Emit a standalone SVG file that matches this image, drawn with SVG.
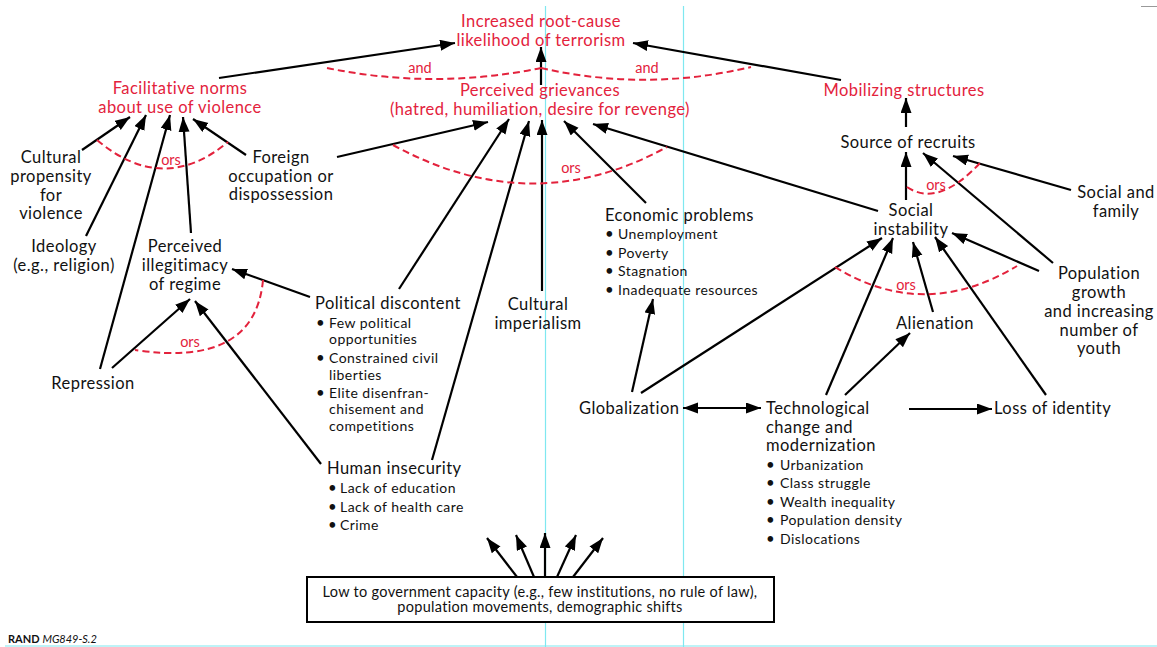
<svg xmlns="http://www.w3.org/2000/svg" width="1157" height="647" viewBox="0 0 1157 647">
  <defs>
    <marker id="ah" markerUnits="userSpaceOnUse" markerWidth="16" markerHeight="12" refX="15" refY="5.5" orient="auto-start-reverse">
      <path d="M0,0 L15,5.5 L0,11 z" fill="#000"/>
    </marker>
    <style>
      text { font-family: Lato, "Open Sans", "Liberation Sans", sans-serif; fill: #111; }
      .m { font-size: 16.5px; letter-spacing: 0.45px; }
      .b { font-size: 14px; letter-spacing: 0.45px; }
      .bu { font-size: 15px; letter-spacing: 0; }
      .bx { font-size: 14.5px; letter-spacing: 0.3px; }
      .r { fill: #e3223c; }
      .c { text-anchor: middle; }
      .lab { font-size: 14.5px; fill: #e3223c; text-anchor: middle; }
      .ln { stroke: #000; stroke-width: 2.2; fill: none; marker-end: url(#ah); }
      .arc { stroke: #e3223c; stroke-width: 2; fill: none; stroke-dasharray: 7 4; }
      .guide { stroke: #7fe8f0; stroke-width: 1.2; }
    </style>
  </defs>
  <rect width="1157" height="647" fill="#fff"/>

  <!-- layout guides -->
  <g id="guides">
    <line class="guide" x1="545.5" y1="6" x2="545.5" y2="647"/>
    <line class="guide" x1="683.5" y1="6" x2="683.5" y2="647"/>
    <line class="guide" x1="5" y1="646" x2="1157" y2="646"/>
    <line x1="1141" y1="6.5" x2="1157" y2="6.5" stroke="#999" stroke-width="1"/>
  </g>

  <!-- connectors -->
  <g id="connectors">
    <line class="ln" x1="219" y1="78" x2="455" y2="43"/>
    <line class="ln" x1="841" y1="80" x2="633" y2="43"/>
    <line class="ln" x1="541" y1="85" x2="541" y2="47"/>
    <path class="arc" d="M327,68 Q434,90 541,68"/>
    <path class="arc" d="M541,68 Q646,92 751,67"/>

    <line class="ln" x1="337" y1="157" x2="488" y2="122"/>
    <line class="ln" x1="399" y1="289" x2="509" y2="119"/>
    <line class="ln" x1="432" y1="460" x2="529" y2="121"/>
    <line class="ln" x1="542" y1="291" x2="542" y2="120"/>
    <line class="ln" x1="646" y1="203" x2="564" y2="121"/>
    <line class="ln" x1="878" y1="211" x2="593" y2="124"/>
    <path class="arc" d="M393,145 Q532,221 667,147"/>

    <line class="ln" x1="82" y1="150" x2="130" y2="117"/>
    <line class="ln" x1="86" y1="236" x2="146" y2="115"/>
    <line class="ln" x1="100" y1="369" x2="170" y2="115"/>
    <line class="ln" x1="191" y1="233" x2="183" y2="117"/>
    <line class="ln" x1="246" y1="155" x2="193" y2="119"/>
    <path class="arc" d="M97,140 Q163,196 228,142"/>

    <line class="ln" x1="310" y1="297" x2="232" y2="269"/>
    <line class="ln" x1="112" y1="368" x2="190" y2="299"/>
    <line class="ln" x1="321" y1="464" x2="195" y2="301"/>
    <path class="arc" d="M263,280 Q255,368 135,350"/>

    <line class="ln" x1="632" y1="392" x2="653" y2="299"/>

    <line class="ln" x1="641" y1="393" x2="882" y2="238"/>
    <line class="ln" x1="826" y1="395" x2="893" y2="238"/>
    <line class="ln" x1="933" y1="312" x2="913" y2="242"/>
    <line class="ln" x1="1046" y1="395" x2="935" y2="237"/>
    <line class="ln" x1="1039" y1="271" x2="952" y2="233"/>
    <path class="arc" d="M835,267 Q924,322 1017,266"/>

    <line class="ln" x1="845" y1="395" x2="910" y2="333"/>
    <line class="ln" x1="909" y1="409" x2="992" y2="409"/>
    <line class="ln" x1="683" y1="408" x2="761" y2="408" marker-start="url(#ah)"/>

    <line class="ln" x1="906" y1="200" x2="906" y2="152"/>
    <line class="ln" x1="1053" y1="263" x2="923" y2="153"/>
    <line class="ln" x1="1071" y1="190" x2="953" y2="156"/>
    <path class="arc" d="M907,187 Q938,208 980,163"/>

    <line class="ln" x1="906" y1="127" x2="906" y2="98"/>

    <line class="ln" x1="517" y1="577" x2="487" y2="538"/>
    <line class="ln" x1="534" y1="577" x2="516" y2="535"/>
    <line class="ln" x1="545" y1="577" x2="545" y2="533"/>
    <line class="ln" x1="557" y1="577" x2="576" y2="535"/>
    <line class="ln" x1="573" y1="577" x2="603" y2="538"/>
  </g>

  <!-- logic labels -->
  <g id="logic-labels">
    <text class="lab" x="420" y="73">and</text>
    <text class="lab" x="647" y="73">and</text>
    <text class="lab" x="171" y="165">ors</text>
    <text class="lab" x="571" y="173">ors</text>
    <text class="lab" x="190" y="347">ors</text>
    <text class="lab" x="906" y="290">ors</text>
    <text class="lab" x="936" y="190">ors</text>
  </g>

  <g id="increased-likelihood">
    <text class="m r c" x="541" y="27">Increased root-cause</text>
    <text class="m r c" x="541" y="46">likelihood of terrorism</text>
  </g>
  <g id="perceived-grievances">
    <text class="m r c" x="540" y="96">Perceived grievances</text>
    <text class="m r c" x="540" y="115">(hatred, humiliation, desire for revenge)</text>
  </g>
  <g id="facilitative-norms">
    <text class="m r c" x="180" y="94">Facilitative norms</text>
    <text class="m r c" x="180" y="113">about use of violence</text>
  </g>
  <g id="mobilizing-structures">
    <text class="m r c" x="904" y="96">Mobilizing structures</text>
  </g>
  <g id="source-of-recruits">
    <text class="m c" x="908" y="148">Source of recruits</text>
  </g>
  <g id="social-and-family">
    <text class="m c" x="1116" y="198">Social and</text>
    <text class="m c" x="1116" y="217">family</text>
  </g>
  <g id="social-instability">
    <text class="m c" x="911" y="216">Social</text>
    <text class="m c" x="911" y="235">instability</text>
  </g>
  <g id="population-growth">
    <text class="m c" x="1099" y="279">Population</text>
    <text class="m c" x="1099" y="298">growth</text>
    <text class="m c" x="1099" y="317">and increasing</text>
    <text class="m c" x="1099" y="336">number of</text>
    <text class="m c" x="1099" y="354">youth</text>
  </g>
  <g id="alienation">
    <text class="m c" x="935" y="329">Alienation</text>
  </g>
  <g id="loss-of-identity">
    <text class="m" x="994" y="414">Loss of identity</text>
  </g>
  <g id="technological-change">
    <text class="m" x="766" y="414">Technological</text>
    <text class="m" x="766" y="433">change and</text>
    <text class="m" x="766" y="451">modernization</text>
    <text class="b" y="470"><tspan class="bu" x="766">•</tspan><tspan x="780">Urbanization</tspan></text>
    <text class="b" y="488"><tspan class="bu" x="766">•</tspan><tspan x="780">Class struggle</tspan></text>
    <text class="b" y="507"><tspan class="bu" x="766">•</tspan><tspan x="780">Wealth inequality</tspan></text>
    <text class="b" y="525"><tspan class="bu" x="766">•</tspan><tspan x="780">Population density</tspan></text>
    <text class="b" y="544"><tspan class="bu" x="766">•</tspan><tspan x="780">Dislocations</tspan></text>
  </g>
  <g id="globalization">
    <text class="m" x="579" y="414">Globalization</text>
  </g>
  <g id="economic-problems">
    <text class="m" x="605" y="221">Economic problems</text>
    <text class="b" y="239"><tspan class="bu" x="605">•</tspan><tspan x="618">Unemployment</tspan></text>
    <text class="b" y="258"><tspan class="bu" x="605">•</tspan><tspan x="618">Poverty</tspan></text>
    <text class="b" y="276"><tspan class="bu" x="605">•</tspan><tspan x="618">Stagnation</tspan></text>
    <text class="b" y="295"><tspan class="bu" x="605">•</tspan><tspan x="618">Inadequate resources</tspan></text>
  </g>
  <g id="cultural-imperialism">
    <text class="m c" x="538" y="310">Cultural</text>
    <text class="m c" x="538" y="329">imperialism</text>
  </g>
  <g id="political-discontent">
    <text class="m" x="315" y="309">Political discontent</text>
    <text class="b" y="328"><tspan class="bu" x="316">•</tspan><tspan x="329">Few political</tspan></text>
    <text class="b" x="329" y="344">opportunities</text>
    <text class="b" y="363"><tspan class="bu" x="316">•</tspan><tspan x="329">Constrained civil</tspan></text>
    <text class="b" x="329" y="380">liberties</text>
    <text class="b" y="398"><tspan class="bu" x="316">•</tspan><tspan x="329">Elite disenfran-</tspan></text>
    <text class="b" x="329" y="414">chisement and</text>
    <text class="b" x="329" y="431">competitions</text>
  </g>
  <g id="human-insecurity">
    <text class="m" x="327" y="474">Human insecurity</text>
    <text class="b" y="493"><tspan class="bu" x="328">•</tspan><tspan x="340">Lack of education</tspan></text>
    <text class="b" y="512"><tspan class="bu" x="328">•</tspan><tspan x="340">Lack of health care</tspan></text>
    <text class="b" y="530"><tspan class="bu" x="328">•</tspan><tspan x="340">Crime</tspan></text>
  </g>
  <g id="perceived-illegitimacy">
    <text class="m c" x="185" y="252">Perceived</text>
    <text class="m c" x="185" y="271">illegitimacy</text>
    <text class="m c" x="185" y="290">of regime</text>
  </g>
  <g id="ideology">
    <text class="m c" x="64" y="252">Ideology</text>
    <text class="m c" x="64" y="271">(e.g., religion)</text>
  </g>
  <g id="repression">
    <text class="m c" x="93" y="389">Repression</text>
  </g>
  <g id="cultural-propensity">
    <text class="m c" x="51" y="163">Cultural</text>
    <text class="m c" x="51" y="182">propensity</text>
    <text class="m c" x="51" y="201">for</text>
    <text class="m c" x="51" y="219">violence</text>
  </g>
  <g id="foreign-occupation">
    <text class="m c" x="281" y="163">Foreign</text>
    <text class="m c" x="281" y="182">occupation or</text>
    <text class="m c" x="281" y="200">dispossession</text>
  </g>
  <g id="government-capacity">
    <rect x="307" y="577" width="467" height="45" fill="#fff" stroke="#000" stroke-width="2"/>
    <text class="bx c" x="540" y="597">Low to government capacity (e.g., few institutions, no rule of law),</text>
    <text class="bx c" x="540" y="612">population movements, demographic shifts</text>
  </g>

  <g id="credit">
    <text x="8" y="643" style="font-size:11px"><tspan font-weight="bold">RAND</tspan> <tspan font-style="italic">MG849-S.2</tspan></text>
  </g>
</svg>
